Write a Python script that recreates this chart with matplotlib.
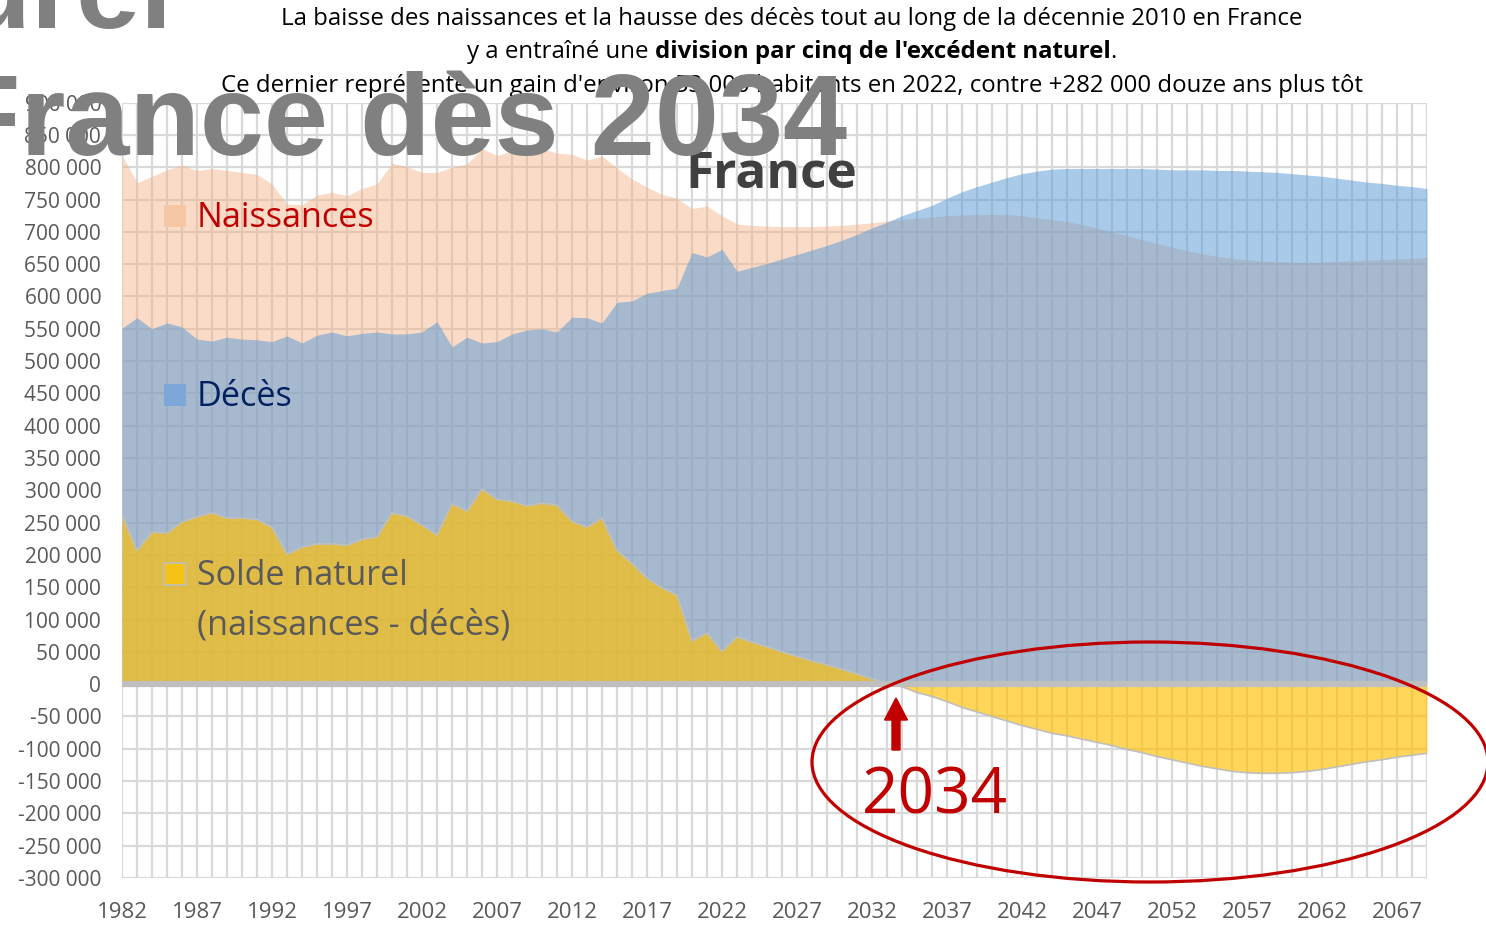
import matplotlib
matplotlib.use("Agg")
import matplotlib.pyplot as plt
from matplotlib.patches import Rectangle, Ellipse, FancyArrow
from matplotlib.transforms import IdentityTransform

# donnees (en milliers)
annees = list(range(1982, 2070))
naissances = [819, 776, 786, 796, 803, 795, 798, 795, 792, 789, 774, 743, 742, 757, 761, 756, 767, 774,
              806, 801, 792, 792, 800, 805, 829, 818, 825, 823, 829, 822, 820, 811, 817,
              799, 782, 769, 758, 752, 736, 740, 725, 712, 710, 709, 708, 708, 708, 709, 710,
              712, 714, 717, 719, 721, 723, 725, 726, 727, 727, 727, 725, 722, 719, 716, 711,
              706, 700, 694, 688, 682, 676, 671, 666, 662, 659, 657, 655, 654, 653, 653, 653,
              654, 655, 656, 657, 658, 659, 660]
deces = [551, 567, 550, 559, 553, 534, 531, 537, 534, 533, 530, 539, 528, 540, 545, 539, 543, 545,
         542, 542, 545, 561, 522, 537, 528, 530, 542, 548, 550, 545, 568, 567, 559,
         591, 593, 605, 609, 613, 668, 661, 673, 639, 645, 651, 658, 665, 672, 679, 687,
         696, 706, 715, 725, 733, 741, 752, 762, 770, 777, 784, 790, 794, 797, 798, 798,
         798, 798, 798, 798, 797, 796, 796, 796, 795, 795, 794, 793, 792, 790, 788, 786,
         783, 780, 777, 775, 772, 770, 767]
solde = [262, 207, 235, 234, 251, 259, 265, 257, 257, 255, 243, 201, 212, 217, 217, 215, 224, 228,
         265, 260, 246, 231, 279, 268, 302, 286, 283, 276, 280, 277, 252, 243, 257,
         207, 187, 164, 149, 138, 67, 79, 51, 73, 65, 58, 50, 43, 36, 30, 23,
         16, 8, 2, -4, -13, -19, -27, -36, -43, -50, -57, -64, -70, -76, -80, -85,
         -90, -95, -101, -106, -112, -117, -122, -127, -131, -135, -137, -138, -138, -137, -135, -132,
         -128, -124, -120, -117, -113, -110, -107]
ticks_y = list(range(-300000, 900001, 50000))
ticks_x = list(range(1982, 2068, 5))

W, H = 1486, 926
plt.rcParams['font.family'] = ['Open Sans', 'DejaVu Sans']

fig = plt.figure(figsize=(W / 100, H / 100), dpi=100)
ax = fig.add_axes([122 / W, 1 - 878 / H, 1305 / W, 775.4 / H])

n = [v * 1000 for v in naissances]
d = [v * 1000 for v in deces]
s = [v * 1000 for v in solde]

ax.fill_between(annees, 0, n, color='#F4B183', alpha=0.45, lw=0, zorder=2)
ax.fill_between(annees, 0, d, color='#5B9BD5', alpha=0.52, lw=0, zorder=3)
ax.fill_between(annees, 0, s, color='#FFC000', alpha=0.65, lw=0, zorder=4)
ax.plot(annees, s, color='#BFBFBF', lw=1.2, zorder=5)
ax.axhline(0, color='#BFBFBF', lw=4.5, zorder=6)

ax.set_xlim(1982, 2069)
ax.set_ylim(-300000, 900000)
ax.set_xticks(annees)
ax.set_xticklabels([str(a) if a in ticks_x else '' for a in annees])
ax.set_yticks(ticks_y)
ax.set_yticklabels([f"{v:,}".replace(",", " ") for v in ticks_y])
ax.tick_params(length=0, labelsize=15, colors='#595959')
ax.tick_params(axis='y', pad=15)
ax.tick_params(axis='x', labelsize=16, pad=17)
ax.grid(True, color='#D9D9D9', lw=1.6, zorder=1)
ax.set_axisbelow(True)
for sp in ax.spines.values():
    sp.set_visible(False)


def fx(x):
    return x / W


def fy(y):
    return 1 - y / H


# titre
fig.text(fx(792), fy(25), "La baisse des naissances et la hausse des décès tout au long de la décennie 2010 en France",
         ha='center', va='baseline', fontsize=17.3, color='black')
fig.text(fx(792), fy(92), "Ce dernier représente un gain d'environ 53 000 habitants en 2022, contre +282 000 douze ans plus tôt",
         ha='center', va='baseline', fontsize=17.3, color='black')

# ligne 2 avec partie en gras
parts = [("y a entraîné une ", 'normal'), ("division par cinq de l'excédent naturel", 'bold'), (".", 'normal')]
r = fig.canvas.get_renderer()
objs = []
for txt, w in parts:
    t = fig.text(0, fy(58), txt, ha='left', va='baseline', fontsize=17.3, fontweight=w, color='black')
    objs.append(t)
widths = [t.get_window_extent(renderer=r).width for t in objs]
x0 = 792 - sum(widths) / 2
for t, wd in zip(objs, widths):
    t.set_x(fx(x0))
    x0 += wd

# legende maison
leg = [("Naissances", '#C00000', '#F6C6A5', 'none', 205, 227),
       ("Décès", '#002060', '#7DA7D8', 'none', 384, 406),
       ("Solde naturel", '#595959', '#F5C218', '#BFBFBF', 563, 585)]
for lab, tc, fc, ec, y1, yb in leg:
    fig.patches.append(Rectangle((164, H - y1 - 22), 22, 22, facecolor=fc, edgecolor=ec, lw=1.2,
                                 transform=IdentityTransform(), zorder=7))
    fig.text(fx(197), fy(yb), lab, ha='left', va='baseline', fontsize=24.6, color=tc, zorder=8)
fig.text(fx(197), fy(634), "(naissances - décès)", ha='left', va='baseline', fontsize=24.6, color='#595959', zorder=8)

fig.text(fx(685), fy(188), "France", ha='left', va='baseline', fontsize=37, fontweight='bold',
         color='#404040', zorder=8)

# annotation 2034
fig.patches.append(Ellipse((1150, H - 762), 676, 240, fill=False, edgecolor='#C00000', lw=2.3,
                           transform=IdentityTransform(), zorder=9))
fig.patches.append(FancyArrow(896, H - 750, 0, 52, width=8, head_width=23, head_length=22,
                              length_includes_head=True, color='#C00000',
                              transform=IdentityTransform(), zorder=9))
fig.text(fx(862), fy(813), "2034", ha='left', va='baseline', fontsize=46, color='#C00000', zorder=9)

# gros titre gris en surimpression
fig.text(fx(172), fy(28), "Solde naturel", ha='right', va='baseline', fontsize=83, fontweight='bold',
         color='#808080', family=['Liberation Sans', 'DejaVu Sans'], zorder=10)
fig.text(fx(847), fy(155), "France dès 2034", ha='right', va='baseline', fontsize=83, fontweight='bold',
         color='#808080', family=['Liberation Sans', 'DejaVu Sans'], zorder=10)

fig.savefig("out.png", dpi=100)
